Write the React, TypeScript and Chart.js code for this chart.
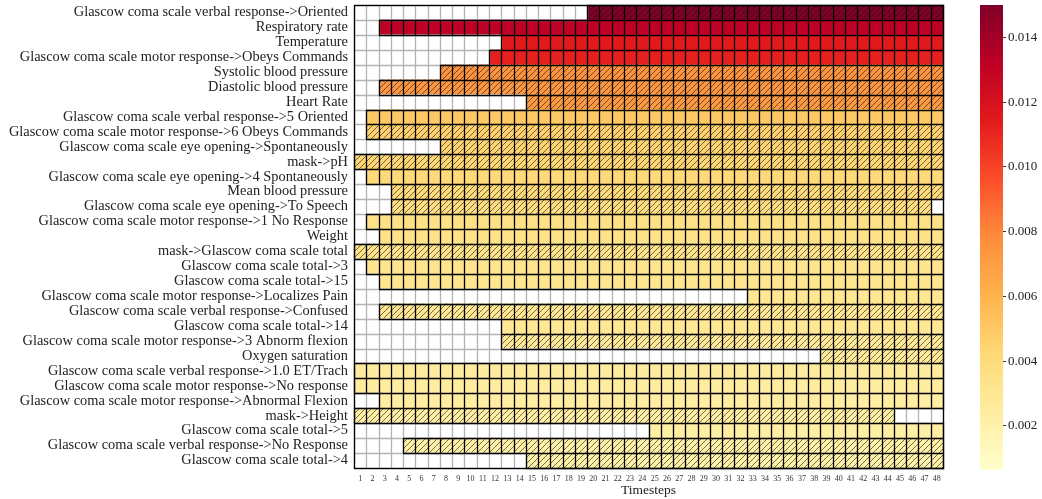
import { useEffect, useRef } from "react";
import { Chart, registerables } from "chart.js";

Chart.register(...registerables);

// Features, top to bottom
const FEATURES: string[] = [
  "Glascow coma scale verbal response->Oriented",
  "Respiratory rate",
  "Temperature",
  "Glascow coma scale motor response->Obeys Commands",
  "Systolic blood pressure",
  "Diastolic blood pressure",
  "Heart Rate",
  "Glascow coma scale verbal response->5 Oriented",
  "Glascow coma scale motor response->6 Obeys Commands",
  "Glascow coma scale eye opening->Spontaneously",
  "mask->pH",
  "Glascow coma scale eye opening->4 Spontaneously",
  "Mean blood pressure",
  "Glascow coma scale eye opening->To Speech",
  "Glascow coma scale motor response->1 No Response",
  "Weight",
  "mask->Glascow coma scale total",
  "Glascow coma scale total->3",
  "Glascow coma scale total->15",
  "Glascow coma scale motor response->Localizes Pain",
  "Glascow coma scale verbal response->Confused",
  "Glascow coma scale total->14",
  "Glascow coma scale motor response->3 Abnorm flexion",
  "Oxygen saturation",
  "Glascow coma scale verbal response->1.0 ET/Trach",
  "Glascow coma scale motor response->No response",
  "Glascow coma scale motor response->Abnormal Flexion",
  "mask->Height",
  "Glascow coma scale total->5",
  "Glascow coma scale verbal response->No Response",
  "Glascow coma scale total->4",
];

// Attribution value of each feature
const IMPORTANCE: number[] = [
  0.01500, 0.01313, 0.01148, 0.01120, 0.00753, 0.00739, 0.00725, 0.00495,
  0.00459, 0.00445, 0.00430, 0.00420, 0.00406, 0.00380, 0.00358, 0.00344,
  0.00337, 0.00322, 0.00315, 0.00308, 0.00301, 0.00294, 0.00279, 0.00272,
  0.00258, 0.00248, 0.00239, 0.00233, 0.00222, 0.00215, 0.00208,
];

// First and last timestep where each feature is present
const FIRST_STEP: number[] = [
  20, 3, 13, 12, 8, 3, 15, 2, 2, 8, 1, 2, 4, 4, 2, 3,
  1, 2, 3, 33, 3, 13, 13, 39, 1, 1, 3, 1, 25, 5, 15,
];
const LAST_STEP: number[] = [
  48, 48, 48, 48, 48, 48, 48, 48, 48, 48, 48, 48, 48, 47, 48, 48,
  48, 48, 48, 48, 48, 48, 48, 48, 48, 48, 48, 44, 48, 48, 48,
];

// Features drawn with a hatch pattern
const HATCHED: boolean[] = [
  true, false, false, false, true, true, true, false,
  true, true, true, false, true, true, false, false,
  true, false, false, false, true, false, true, true,
  false, false, false, true, false, true, true,
];

const TIMESTEPS: number[] = [
  1, 2, 3, 4, 5, 6, 7, 8, 9, 10, 11, 12, 13, 14, 15, 16,
  17, 18, 19, 20, 21, 22, 23, 24, 25, 26, 27, 28, 29, 30, 31, 32,
  33, 34, 35, 36, 37, 38, 39, 40, 41, 42, 43, 44, 45, 46, 47, 48,
];

const COLORBAR_TICKS: number[] = [0.002, 0.004, 0.006, 0.008, 0.010, 0.012, 0.014];
const COLOR_MIN = 0.00064;
const COLOR_MAX = 0.015;

// YlOrRd colormap
const YLORRD: [number, number, number][] = [
  [255, 255, 204], [255, 237, 160], [254, 217, 118], [254, 178, 76],
  [253, 141, 60], [252, 78, 42], [227, 26, 28], [189, 0, 38], [128, 0, 38],
];

const FONT = "'Liberation Serif', 'Times New Roman', serif";

function colormap(v: number): string {
  let t = (v - COLOR_MIN) / (COLOR_MAX - COLOR_MIN);
  t = Math.max(0, Math.min(1, t));
  const p = t * (YLORRD.length - 1);
  const i = Math.min(Math.floor(p), YLORRD.length - 2);
  const f = p - i;
  const a = YLORRD[i];
  const b = YLORRD[i + 1];
  const c = a.map((x, k) => Math.round(x + (b[k] - x) * f));
  return `rgb(${c[0]},${c[1]},${c[2]})`;
}

function isPresent(row: number, step: number): boolean {
  return step >= FIRST_STEP[row] && step <= LAST_STEP[row];
}

function hatchPattern(ctx: CanvasRenderingContext2D, color: string): CanvasPattern | string {
  const s = 6;
  const tile = document.createElement("canvas");
  tile.width = s;
  tile.height = s;
  const t = tile.getContext("2d");
  if (!t) return color;
  t.fillStyle = color;
  t.fillRect(0, 0, s, s);
  t.strokeStyle = "rgba(20,20,20,0.75)";
  t.lineWidth = 0.8;
  t.beginPath();
  t.moveTo(-1, s + 1);
  t.lineTo(s + 1, -1);
  t.moveTo(-1, 1);
  t.lineTo(1, -1);
  t.moveTo(s - 1, s + 1);
  t.lineTo(s + 1, s - 1);
  t.stroke();
  return ctx.createPattern(tile, "repeat") || color;
}

// Cell outlines, snapped to the pixel grid: grey round empty cells, black round filled ones
const cellEdgePlugin = {
  id: "cellEdges",
  afterDatasetsDraw(chart: any) {
    const ctx = chart.ctx;
    const snap = (v: number) => Math.round(v) + 0.5;
    ctx.save();
    ctx.lineWidth = 1.3;
    [false, true].forEach((filled) => {
      ctx.strokeStyle = filled ? "#000000" : "#b3b3b3";
      ctx.beginPath();
      chart.data.datasets.forEach((_: any, di: number) => {
        const meta = chart.getDatasetMeta(di);
        meta.data.forEach((el: any, r: number) => {
          if (isPresent(r, TIMESTEPS[di]) !== filled) return;
          const p = el.getProps(["x", "y", "base", "height"], true);
          const l = snap(Math.min(p.x, p.base));
          const rr = snap(Math.max(p.x, p.base));
          const t = snap(p.y - p.height / 2);
          const b = snap(p.y + p.height / 2);
          ctx.rect(l, t, rr - l, b - t);
        });
      });
      ctx.stroke();
    });
    ctx.restore();
  },
};

const framePlugin = {
  id: "frame",
  afterDraw(chart: any) {
    const { ctx, chartArea } = chart;
    const snap = (v: number) => Math.round(v) + 0.5;
    const l = snap(chartArea.left);
    const r = snap(chartArea.right);
    const t = snap(chartArea.top);
    const b = snap(chartArea.bottom);
    ctx.save();
    ctx.strokeStyle = "#000";
    ctx.lineWidth = 1.3;
    ctx.strokeRect(l, t, r - l, b - t);
    ctx.restore();
  },
};

const gradientPlugin = {
  id: "colorbarGradient",
  beforeDatasetsDraw(chart: any) {
    const { ctx, chartArea, scales } = chart;
    const y = scales.y;
    const y0 = y.getPixelForValue(COLOR_MIN);
    const y1 = y.getPixelForValue(COLOR_MAX);
    const g = ctx.createLinearGradient(0, y0, 0, y1);
    YLORRD.forEach((c: number[], i: number) => {
      g.addColorStop(i / (YLORRD.length - 1), `rgb(${c[0]},${c[1]},${c[2]})`);
    });
    ctx.save();
    ctx.fillStyle = g;
    ctx.fillRect(chartArea.left, y1, chartArea.right - chartArea.left, y0 - y1);
    ctx.restore();
  },
};

// Let the layout padding alone decide where the plot area sits
function noLabelPadding(s: any) {
  s.paddingTop = 0;
  s.paddingBottom = 0;
  s.paddingLeft = 0;
  s.paddingRight = 0;
}

export default function App() {
  const heatRef = useRef<HTMLCanvasElement>(null);
  const barRef = useRef<HTMLCanvasElement>(null);

  useEffect(() => {
    const heatCanvas = heatRef.current;
    const barCanvas = barRef.current;
    if (!heatCanvas || !barCanvas) return;
    const hctx = heatCanvas.getContext("2d");
    if (!hctx) return;

    const fills = FEATURES.map((_, r) => {
      const c = colormap(IMPORTANCE[r]);
      return HATCHED[r] ? hatchPattern(hctx, c) : c;
    });

    const datasets = TIMESTEPS.map((step) => ({
      data: FEATURES.map((f) => ({ y: f, x: [step - 0.5, step + 0.5] })),
      backgroundColor: FEATURES.map((_, r) => (isPresent(r, step) ? fills[r] : "#ffffff")),
      borderWidth: 0,
      inflateAmount: 0.3,
      grouped: false,
      categoryPercentage: 1,
      barPercentage: 1,
    }));

    const heat = new Chart(heatCanvas, {
      type: "bar",
      data: { labels: FEATURES, datasets: datasets as any },
      options: {
        animation: false,
        responsive: false,
        devicePixelRatio: 1,
        indexAxis: "y",
        layout: { padding: { left: 0, top: 5, right: 17, bottom: 0 } },
        plugins: { legend: { display: false }, tooltip: { enabled: false } },
        scales: {
          y: {
            type: "category",
            grid: { display: false, drawTicks: false },
            border: { display: false },
            ticks: {
              autoSkip: false,
              color: "#222",
              padding: 6,
              font: { family: FONT, size: 14.4 },
            },
            afterFit: (s: any) => {
              s.width = 354;
              noLabelPadding(s);
            },
          },
          x: {
            type: "linear",
            min: 0.5,
            max: 48.5,
            grid: { display: false, drawTicks: false },
            border: { display: false },
            ticks: {
              color: "#333",
              padding: 6,
              maxRotation: 0,
              autoSkip: false,
              font: { family: FONT, size: 8 },
            },
            afterBuildTicks: (s: any) => {
              s.ticks = TIMESTEPS.map((v) => ({ value: v }));
            },
            title: {
              display: true,
              text: "Timesteps",
              color: "#222",
              padding: { top: 0, bottom: 0 },
              font: { family: FONT, size: 13.5 },
            },
            afterFit: (s: any) => {
              s.height = 31;
              noLabelPadding(s);
            },
          },
        },
      },
      plugins: [cellEdgePlugin, framePlugin],
    });

    const bar = new Chart(barCanvas, {
      type: "bar",
      data: { labels: [""], datasets: [] },
      options: {
        animation: false,
        responsive: false,
        devicePixelRatio: 1,
        layout: { padding: { left: 20, top: 5, right: 0, bottom: 29 } },
        plugins: { legend: { display: false }, tooltip: { enabled: false } },
        scales: {
          x: { display: false },
          y: {
            type: "linear",
            position: "right",
            min: COLOR_MIN,
            max: COLOR_MAX,
            grid: { display: true, drawOnChartArea: false, drawTicks: true, tickLength: 3, color: "#333" },
            border: { display: false },
            ticks: {
              color: "#222",
              padding: 2,
              font: { family: FONT, size: 13 },
              callback: (v: any) => Number(v).toFixed(3),
            },
            afterBuildTicks: (s: any) => {
              s.ticks = COLORBAR_TICKS.map((v) => ({ value: v }));
            },
            afterFit: (s: any) => {
              s.width = 39;
              noLabelPadding(s);
            },
          },
        },
      },
      plugins: [gradientPlugin],
    });

    return () => {
      heat.destroy();
      bar.destroy();
    };
  }, []);

  return (
    <div style={{ position: "fixed", left: 0, top: 0, width: 1042, height: 499, background: "#fff" }}>
      <canvas ref={heatRef} width={960} height={499} style={{ position: "absolute", left: 0, top: 0 }} />
      <canvas ref={barRef} width={82} height={499} style={{ position: "absolute", left: 960, top: 0 }} />
    </div>
  );
}
